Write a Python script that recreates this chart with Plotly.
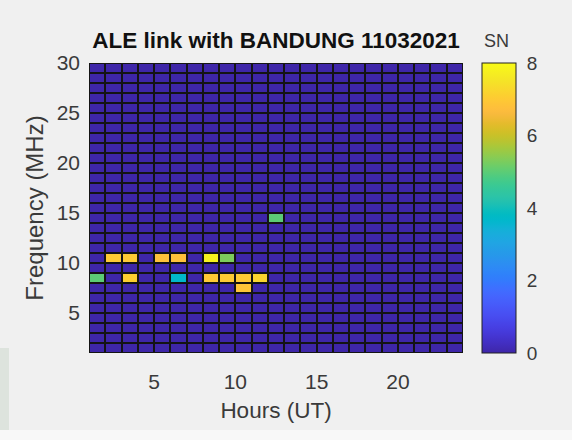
import plotly.graph_objects as go

# Cell edges (pcolor style)
hours = list(range(1, 25))      # 1..24 -> 23 columns
freqs = list(range(1, 31))      # 1..30 -> 29 rows

# Non-zero SN events (hour cell, frequency cell, SN value)
event_hours = [1, 2, 3, 3, 5, 6, 6, 8, 9, 8, 9, 10, 11, 10, 12]
event_freqs = [8, 10, 10, 8, 10, 10, 8, 10, 10, 8, 8, 8, 8, 7, 14]
event_sn    = [5.0, 7.0, 7.0, 7.1, 6.8, 6.8, 3.7, 7.8, 5.3, 7.0, 7.0, 7.0, 7.2, 6.9, 5.0]

x_ticks = [5, 10, 15, 20]
y_ticks = [5, 10, 15, 20, 25, 30]
cb_ticks = [0, 2, 4, 6, 8]

z = [[0.0 for _ in range(len(hours) - 1)] for _ in range(len(freqs) - 1)]
for h, f, v in zip(event_hours, event_freqs, event_sn):
    z[f - freqs[0]][h - hours[0]] = v

parula = [
    (0.2422, 0.1504, 0.6603), (0.2504, 0.1650, 0.7076), (0.2578, 0.1818, 0.7511), (0.2647, 0.1978, 0.7952),
    (0.2706, 0.2147, 0.8364), (0.2751, 0.2342, 0.8710), (0.2783, 0.2559, 0.8991), (0.2803, 0.2782, 0.9221),
    (0.2813, 0.3006, 0.9414), (0.2810, 0.3228, 0.9579), (0.2795, 0.3447, 0.9717), (0.2760, 0.3667, 0.9829),
    (0.2699, 0.3892, 0.9906), (0.2602, 0.4123, 0.9952), (0.2440, 0.4358, 0.9988), (0.2206, 0.4603, 0.9973),
    (0.1963, 0.4847, 0.9892), (0.1834, 0.5074, 0.9798), (0.1786, 0.5289, 0.9682), (0.1764, 0.5499, 0.9520),
    (0.1687, 0.5703, 0.9359), (0.1540, 0.5902, 0.9218), (0.1460, 0.6091, 0.9079), (0.1380, 0.6276, 0.8973),
    (0.1248, 0.6459, 0.8883), (0.1113, 0.6635, 0.8763), (0.0952, 0.6798, 0.8598), (0.0689, 0.6948, 0.8394),
    (0.0297, 0.7082, 0.8163), (0.0036, 0.7203, 0.7917), (0.0067, 0.7312, 0.7660), (0.0433, 0.7411, 0.7394),
    (0.0964, 0.7500, 0.7120), (0.1408, 0.7584, 0.6842), (0.1717, 0.7670, 0.6554), (0.1938, 0.7758, 0.6251),
    (0.2161, 0.7843, 0.5923), (0.2470, 0.7918, 0.5567), (0.2906, 0.7973, 0.5188), (0.3406, 0.8008, 0.4789),
    (0.3909, 0.8029, 0.4354), (0.4456, 0.8024, 0.3909), (0.5044, 0.7993, 0.3480), (0.5616, 0.7942, 0.3045),
    (0.6174, 0.7876, 0.2612), (0.6720, 0.7793, 0.2227), (0.7242, 0.7698, 0.1910), (0.7738, 0.7598, 0.1646),
    (0.8203, 0.7498, 0.1535), (0.8634, 0.7406, 0.1596), (0.9035, 0.7330, 0.1774), (0.9393, 0.7288, 0.2100),
    (0.9728, 0.7298, 0.2394), (0.9956, 0.7434, 0.2371), (0.9970, 0.7659, 0.2199), (0.9952, 0.7893, 0.2028),
    (0.9892, 0.8136, 0.1885), (0.9786, 0.8386, 0.1766), (0.9676, 0.8639, 0.1643), (0.9610, 0.8890, 0.1537),
    (0.9597, 0.9135, 0.1423), (0.9628, 0.9373, 0.1265), (0.9691, 0.9606, 0.1064), (0.9769, 0.9839, 0.0805),
]
n = len(parula)
colorscale = [[i / (n - 1), "rgb(%d,%d,%d)" % tuple(round(c * 255) for c in col)] for i, col in enumerate(parula)]

FONT = "Liberation Sans, Arial, sans-serif"
TXT = "#3a3a3a"
BG = "#f0f0f0"

fig = go.Figure(go.Heatmap(
    x=hours, y=freqs, z=z,
    zmin=0, zmax=8,
    colorscale=colorscale,
    xgap=2, ygap=2,
    colorbar=dict(
        x=1.05, xanchor="left", xref="paper",
        y=0, yanchor="bottom", yref="paper", len=1, lenmode="fraction", ypad=0, xpad=0,
        thickness=34, outlinewidth=1, outlinecolor="#222",
        tickvals=cb_ticks, ticks="outside", ticklen=7, tickcolor=BG,
        tickfont=dict(family=FONT, size=19, color=TXT),
    ),
    hoverinfo="skip",
))

fig.update_layout(
    width=572, height=440,
    margin=dict(l=89, r=109, t=63, b=87),
    paper_bgcolor=BG,
    plot_bgcolor="#141414",
    title=dict(text="<b>ALE link with BANDUNG 11032021</b>", x=0.5, xref="paper", xanchor="center",
               y=(440 - 40) / 440, yref="container", yanchor="middle",
               font=dict(family=FONT, size=22.5, color="#111")),
    xaxis=dict(range=[hours[0], hours[-1]], tickvals=x_ticks, ticks="", showgrid=False, zeroline=False,
               tickfont=dict(family=FONT, size=21, color=TXT), ticklabelstandoff=14,
               title=dict(text="Hours (UT)", font=dict(family=FONT, size=22.5, color=TXT), standoff=10)),
    yaxis=dict(range=[freqs[0], freqs[-1]], tickvals=y_ticks, ticks="", showgrid=False, zeroline=False,
               tickfont=dict(family=FONT, size=21, color=TXT), ticklabelstandoff=8,
               title=dict(text="Frequency (MHz)", font=dict(family=FONT, size=24, color=TXT), standoff=6)),
    annotations=[dict(text="SN", x=(497 - 89) / 374, y=(353 - 41) / 290, xref="paper", yref="paper",
                      xanchor="center", yanchor="middle", showarrow=False,
                      font=dict(family=FONT, size=18, color=TXT))],
    shapes=[
        dict(type="rect", xref="paper", yref="paper", x0=-89 / 374, x1=(9 - 89) / 374,
             y0=(353 - 430) / 290, y1=(353 - 348) / 290, fillcolor="#dde3dd", line_width=0, layer="below"),
        dict(type="rect", xref="paper", yref="paper", x0=-89 / 374, x1=(572 - 89) / 374,
             y0=(353 - 440) / 290, y1=(353 - 430) / 290, fillcolor="#f8f8f8", line_width=0, layer="below"),
    ],
)

fig.write_html("out.html")
